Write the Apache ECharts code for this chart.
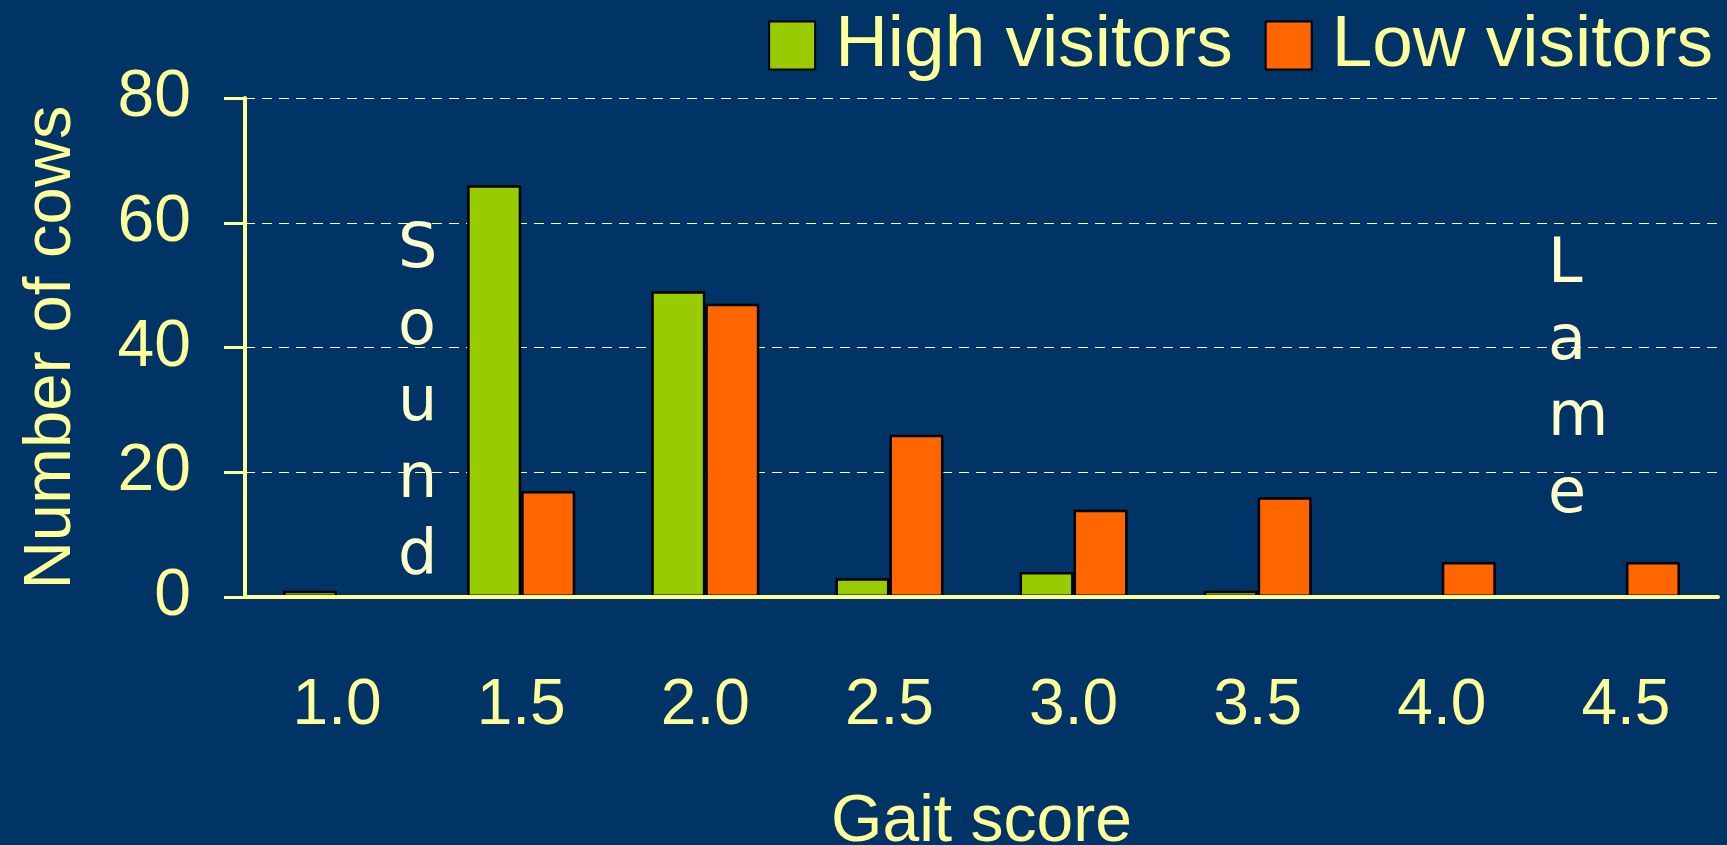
<!DOCTYPE html>
<html>
<head>
<meta charset="utf-8">
<title>Gait score</title>
<script src="https://cdn.jsdelivr.net/npm/echarts@6/dist/echarts.min.js"></script>
<style>
  html, body { margin: 0; padding: 0; background: #003366; }
  #chart { width: 1727px; height: 845px; }
</style>
</head>
<body>
<div id="chart"></div>
<script>
// values
const categories = ['1.0', '1.5', '2.0', '2.5', '3.0', '3.5', '4.0', '4.5'];
const highVisitors = [1, 66, 49, 3, 4, 1, 0, 0];
const lowVisitors = [0, 17, 47, 26, 14, 16, 5.6, 5.6];
const yTicks = { min: 0, max: 80, interval: 20 };

const pale = '#FFFF99';
const font = '"Liberation Sans", Arial, sans-serif';

// empty bars would still paint a black border on the axis
const nz = arr => arr.map(v => (v === 0 ? null : v));

let chart = echarts.init(document.getElementById('chart'));

let option = {
  backgroundColor: '#003366',
  animation: false,
  grid: { left: 245, right: 9, top: 98, bottom: 248, outerBoundsMode: 'none' },
  legend: {
    right: 9,
    top: 4,
    icon: 'rect',
    itemWidth: 46,
    itemHeight: 48,
    itemGap: 32,
    textStyle: { color: pale, fontSize: 73, fontFamily: font, padding: [0, 0, 0, 15] },
    data: ['High visitors', 'Low visitors']
  },
  xAxis: {
    type: 'category',
    data: categories,
    z: 3,
    name: 'Gait score',
    nameLocation: 'middle',
    nameGap: 193,
    nameTextStyle: { color: pale, fontSize: 66, fontFamily: font },
    axisLine: { lineStyle: { color: pale, width: 4 } },
    axisTick: { length: 22, lineStyle: { color: pale, width: 3 } },
    axisLabel: { color: pale, fontSize: 64, fontFamily: font, margin: 77 }
  },
  yAxis: {
    type: 'value',
    min: yTicks.min,
    max: yTicks.max,
    interval: yTicks.interval,
    name: 'Number of cows',
    nameLocation: 'middle',
    nameRotate: 90,
    nameGap: 160,
    nameTextStyle: { color: pale, fontSize: 67, fontFamily: font },
    axisLine: { show: true, lineStyle: { color: pale, width: 4 } },
    axisTick: { show: true, length: 21, lineStyle: { color: pale, width: 3 } },
    axisLabel: { color: pale, fontSize: 66, fontFamily: font, margin: 54 },
    splitLine: { lineStyle: { color: '#FFFFCC', width: 1, type: [10, 7] } }
  },
  series: [
    {
      name: 'High visitors',
      type: 'bar',
      barWidth: 54,
      barGap: '0%',
      itemStyle: { color: '#99CC00', borderColor: '#000', borderWidth: 2.5 },
      data: nz(highVisitors)
    },
    {
      name: 'Low visitors',
      type: 'bar',
      barWidth: 54,
      barGap: '0%',
      itemStyle: { color: '#FF6600', borderColor: '#000', borderWidth: 2.5 },
      data: nz(lowVisitors)
    }
  ],
  graphic: [
    {
      type: 'text',
      left: 398,
      top: 213,
      style: {
        text: 'S\no\nu\nn\nd',
        fill: '#FFFFCC',
        font: '62px "DejaVu Sans", Verdana, sans-serif',
        lineHeight: 76.5
      }
    },
    {
      type: 'text',
      left: 1548,
      top: 228,
      style: {
        text: 'L\na\nm\ne',
        fill: '#FFFFCC',
        font: '62px "DejaVu Sans", Verdana, sans-serif',
        lineHeight: 76.5
      }
    }
  ]
};

chart.setOption(option);
</script>
</body>
</html>
